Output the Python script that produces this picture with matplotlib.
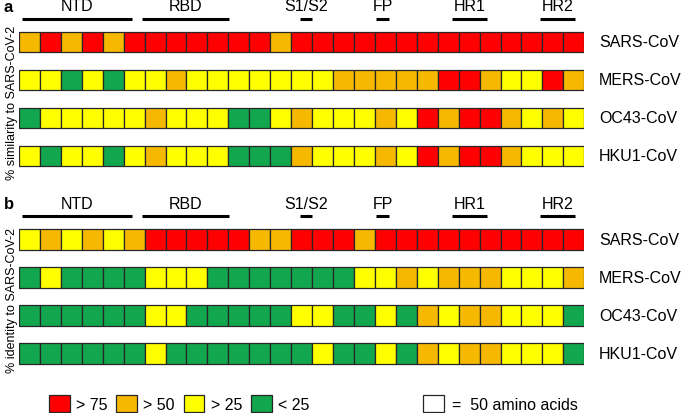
"""Spike protein similarity / identity blocks vs SARS-CoV-2."""

import numpy as np
import matplotlib.pyplot as plt
from matplotlib.patches import Patch

plt.rcParams["font.family"] = ["Liberation Sans", "DejaVu Sans"]

viruses = ["SARS-CoV", "MERS-CoV", "OC43-CoV", "HKU1-CoV"]
block_aa = 50  # one square = 50 amino acids

# level per square: 3 = >75, 2 = >50, 1 = >25, 0 = <25
similarity = [
    [2, 3, 2, 3, 2, 3, 3, 3, 3, 3, 3, 3, 2, 3, 3, 3, 3, 3, 3, 3, 3, 3, 3, 3, 3, 3, 3],
    [1, 1, 0, 1, 0, 1, 1, 2, 1, 1, 1, 1, 1, 1, 1, 2, 2, 2, 2, 2, 3, 3, 2, 1, 1, 3, 2],
    [0, 1, 1, 1, 1, 1, 2, 1, 1, 1, 0, 0, 1, 2, 1, 1, 1, 2, 1, 3, 2, 3, 3, 2, 1, 2, 1],
    [1, 0, 1, 1, 0, 1, 2, 1, 1, 1, 0, 0, 0, 2, 1, 1, 1, 2, 1, 3, 2, 3, 3, 2, 1, 1, 1],
]
identity = [
    [1, 2, 1, 2, 1, 2, 3, 3, 3, 3, 3, 2, 2, 3, 3, 3, 2, 3, 3, 3, 3, 3, 3, 3, 3, 3, 3],
    [0, 1, 0, 0, 0, 0, 1, 1, 1, 0, 0, 0, 0, 0, 0, 0, 1, 1, 2, 1, 2, 2, 2, 1, 1, 1, 2],
    [0, 0, 0, 0, 0, 0, 1, 1, 0, 0, 0, 0, 0, 1, 1, 0, 0, 1, 0, 2, 1, 2, 2, 1, 1, 1, 0],
    [0, 0, 0, 0, 0, 0, 1, 0, 0, 0, 0, 0, 0, 0, 1, 0, 0, 1, 0, 2, 1, 2, 2, 1, 1, 1, 0],
]

domains = ["NTD", "RBD", "S1/S2", "FP", "HR1", "HR2"]
domain_start = [6, 293, 670, 852, 1035, 1245]
domain_end = [269, 502, 699, 884, 1117, 1328]

level_colors = ["#12A64E", "#FFFF00", "#F7B900", "#FF0000"]
legend_labels = ["> 75", "> 50", "> 25", "< 25"]
edge = "#262626"

W, H = 685, 414
fig = plt.figure(figsize=(W / 100, H / 100), dpi=100)

n_blocks = len(similarity[0])
x_left, x_right = 19, 584.3
row_h = 0.55


def panel(top_px, bot_px, first_row_px, data, letter, ylabel):
    ax = fig.add_axes([x_left / W, 1 - bot_px / H, (x_right - x_left) / W,
                       (bot_px - top_px) / H])
    sp = 38.0
    ax.set_xlim(0, n_blocks * block_aa)
    ax.set_ylim((bot_px - first_row_px) / sp, (top_px - first_row_px) / sp)
    ax.axis("off")
    xs = np.arange(n_blocks) * block_aa + block_aa / 2
    for i, (name, levels) in enumerate(zip(viruses, data)):
        cols = [level_colors[v] for v in levels]
        ax.bar(xs, row_h, bottom=i - row_h / 2, width=block_aa, color=cols,
               edgecolor=edge, linewidth=0.9)
        ax.text(1385, i, name, fontsize=11.5, va="center", ha="left",
                clip_on=False)
    for name, s, e in zip(domains, domain_start, domain_end):
        ax.plot([s, e], [-0.6, -0.6], color="black", lw=2.2,
                solid_capstyle="butt", clip_on=False)
        ax.text((s + e) / 2, -0.95, name, fontsize=11.5, ha="center",
                va="center", clip_on=False)
    fig.text(4 / W, 1 - (top_px + 8) / H, letter, fontsize=12,
             fontweight="bold", ha="left", va="center")
    fig.text(12 / W, 1 - (first_row_px + 60) / H, ylabel, fontsize=9,
             rotation=90, ha="center", va="center")
    return ax


panel(0, 185, 43, similarity, "a", "% similarity to SARS-CoV-2")
panel(197, 382, 240.2, identity, "b", "% identity to SARS-CoV-2")

handles = [Patch(facecolor=level_colors[k], edgecolor=edge, linewidth=0.9)
           for k in [3, 2, 1, 0]]
fig.legend(handles, legend_labels, loc="lower left",
           bbox_to_anchor=(48 / W, 0.0), ncol=4, frameon=False,
           fontsize=11.5, handlelength=1.3, handleheight=1.3,
           handletextpad=0.4, columnspacing=0.55, borderpad=0.05,
           borderaxespad=0.0)
fig.legend([Patch(facecolor="white", edgecolor=edge, linewidth=0.9)],
           ["=  50 amino acids"], loc="lower left",
           bbox_to_anchor=(422 / W, 0.0), frameon=False, fontsize=11.5,
           handlelength=1.3, handleheight=1.3, handletextpad=0.5,
           borderpad=0.05, borderaxespad=0.0)

fig.savefig("out.png", dpi=100)
